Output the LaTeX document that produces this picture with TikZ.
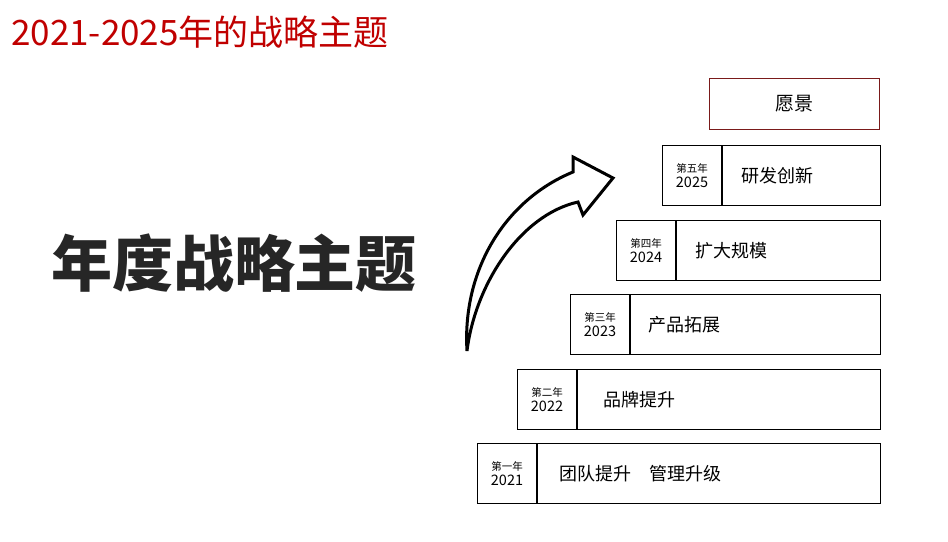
\documentclass[tikz,border=0pt]{standalone}
\usepackage{fontspec}
\setmainfont{Noto Sans CJK SC}
\usepackage{xcolor}
\usetikzlibrary{positioning}
\definecolor{titleRed}{HTML}{C00000}
\definecolor{visionRed}{HTML}{7A1A1A}
\definecolor{bigGray}{HTML}{262626}
\begin{document}
\begin{tikzpicture}[x=1pt,y=-1pt,
  year/.style={draw, line width=1pt, anchor=north west, minimum width=59pt, minimum height=60pt, inner sep=0pt, align=center, font=\fontsize{14.5}{15}\selectfont},
  theme/.style={draw, line width=1pt, anchor=north west, minimum height=60pt, inner xsep=20pt, align=left, font=\fontsize{18}{20}\selectfont}]
\useasboundingbox (0,0) rectangle (948,541);
% headings
\node[anchor=west, inner sep=0pt, text=titleRed, font=\fontsize{35}{38}\selectfont] (title) at (11,32) {2021-2025年的战略主题};
\node[inner sep=0pt, text=bigGray, font=\fontsize{61}{64}\selectfont\bfseries] (big) at (234,263) {年度战略主题};
% vision
\node[draw=visionRed, line width=1pt, anchor=north west, minimum width=170pt, minimum height=51pt, font=\fontsize{19}{22}\selectfont] (V) at (709,78) {愿景};
% five yearly steps
\node[year] (Y5) at (662,145) {{\fontsize{10.5}{11}\selectfont 第五年}\\2025};
\node[theme, right=0pt of Y5.north east, anchor=north west, inner xsep=19pt, text width=120pt] (T5) {研发创新};
\node[year] (Y4) at (616,220) {{\fontsize{10.5}{11}\selectfont 第四年}\\2024};
\node[theme, right=0pt of Y4.north east, anchor=north west, inner xsep=19pt, text width=166pt] (T4) {扩大规模};
\node[year] (Y3) at (570,294) {{\fontsize{10.5}{11}\selectfont 第三年}\\2023};
\node[theme, right=0pt of Y3.north east, anchor=north west, inner xsep=18pt, text width=214pt] (T3) {产品拓展};
\node[year] (Y2) at (517,369) {{\fontsize{10.5}{11}\selectfont 第二年}\\2022};
\node[theme, right=0pt of Y2.north east, anchor=north west, inner xsep=26pt, text width=251pt] (T2) {品牌提升};
\node[year] (Y1) at (477,443) {{\fontsize{10.5}{11}\selectfont 第一年}\\2021};
\node[theme, right=0pt of Y1.north east, anchor=north west, inner xsep=22pt, text width=299pt] (T1) {团队提升\quad 管理升级};
% rising arrow
\draw[line width=3pt, line join=miter, fill=white]
  (467,351) .. controls (462,270) and (505,200) .. (573,172)
  -- (573,157) -- (613,178) -- (583,215) -- (578,202)
  .. controls (520,215) and (475,285) .. cycle;
\end{tikzpicture}
\end{document}
